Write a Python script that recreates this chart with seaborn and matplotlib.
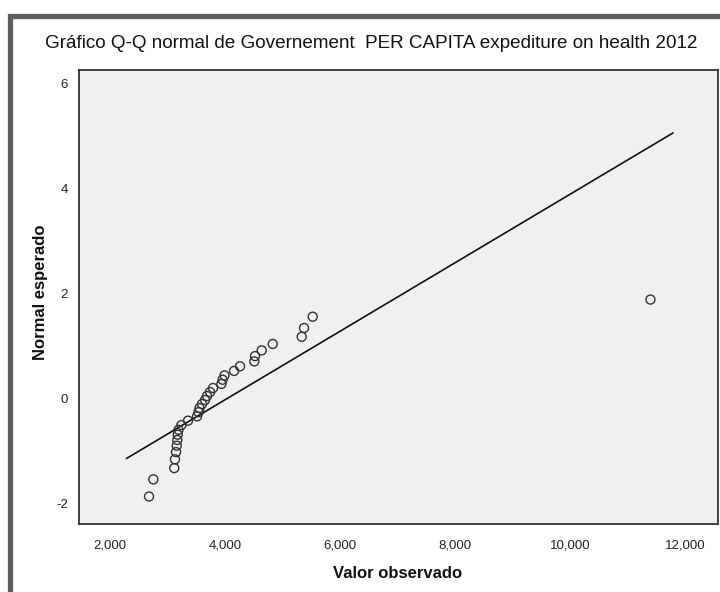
import numpy as np
import pandas as pd
import matplotlib
matplotlib.use("Agg")
import matplotlib.pyplot as plt
import seaborn as sns
from matplotlib.ticker import FuncFormatter
from matplotlib.patches import Rectangle

# Government per-capita health expenditure, 2012 (sorted observed values)
observed = [2678, 2753, 3117, 3130, 3148, 3160, 3170, 3177, 3191, 3240,
            3357, 3513, 3539, 3557, 3600, 3652, 3687, 3739, 3791, 3937,
            3958, 3991, 4157, 4261, 4510, 4522, 4638, 4830, 5334, 5374,
            5525, 11400]
# Expected normal scores for each observation
expected = [-1.876, -1.550, -1.335, -1.168, -1.030, -0.908, -0.799, -0.698,
            -0.605, -0.516, -0.431, -0.349, -0.269, -0.191, -0.114, -0.038,
            0.038, 0.114, 0.191, 0.269, 0.349, 0.431, 0.516, 0.605,
            0.698, 0.799, 0.908, 1.030, 1.168, 1.335, 1.550, 1.876]

x_ticks = [2000, 4000, 6000, 8000, 10000, 12000]
y_ticks = [-2, 0, 2, 4, 6]

title = "Gráfico Q-Q normal de Governement  PER CAPITA expediture on health 2012"

sns.set_style("white")
plt.rcParams["font.family"] = ["Liberation Sans", "DejaVu Sans"]

W, H = 720, 592
fig = plt.figure(figsize=(W / 100, H / 100), dpi=100)
fig.patch.set_facecolor("white")

ax = fig.add_axes([79 / W, 1 - 524 / H, (718 - 79) / W, (524 - 70) / H])
ax.set_facecolor("#f0f0f0")

df = pd.DataFrame({"observed": observed, "expected": expected})

# Reference line: standardised observed values
obs = np.asarray(observed, dtype=float)
mean, sd = obs.mean(), obs.std(ddof=1)
span = obs.max() - obs.min()
line_x = np.array([obs.min() - 0.045 * span, obs.max() + 0.045 * span])
line_y = (line_x - mean) / sd
sns.lineplot(x=line_x, y=line_y, ax=ax, color="#111111", linewidth=1.2)

sns.scatterplot(data=df, x="observed", y="expected", ax=ax, marker="o",
                s=42, facecolors="none", edgecolor="#333333", linewidth=1.0,
                zorder=3)

ax.set_xlim(1460, 12575)
ax.set_ylim(-2.4, 6.25)
ax.set_xticks(x_ticks)
ax.set_yticks(y_ticks)
ax.xaxis.set_major_formatter(FuncFormatter(lambda v, p: f"{v:,.0f}"))
ax.yaxis.set_major_formatter(FuncFormatter(lambda v, p: f"{v:.0f}"))
ax.tick_params(direction="out", length=5, width=1, color="#333333",
               labelsize=9.5, labelcolor="#222222", pad=3)
ax.tick_params(axis="x", pad=6)
ax.set_xlabel("")
ax.set_ylabel("")
for sp in ax.spines.values():
    sp.set_color("#333333")
    sp.set_linewidth(1.3)
    sp.set_visible(True)

fig.text(371 / W, 1 - 43 / H, title, ha="center", va="center",
         fontsize=13.6, color="#111111")
fig.text(398 / W, 1 - 574 / H, "Valor observado", ha="center", va="center",
         fontsize=12, fontweight="bold", color="#111111")
fig.text(41 / W, 1 - 292 / H, "Normal esperado", ha="center", va="center",
         rotation=90, fontsize=12, fontweight="bold", color="#111111")

# Dark outer frame along the top and left edges
fig.add_artist(Rectangle((10 / W, -0.1), 1.2, (H - 16) / H + 0.1,
                         transform=fig.transFigure, fill=False,
                         edgecolor="#5c5c5c", linewidth=3.8, clip_on=False))

fig.savefig("out.png", dpi=100)
